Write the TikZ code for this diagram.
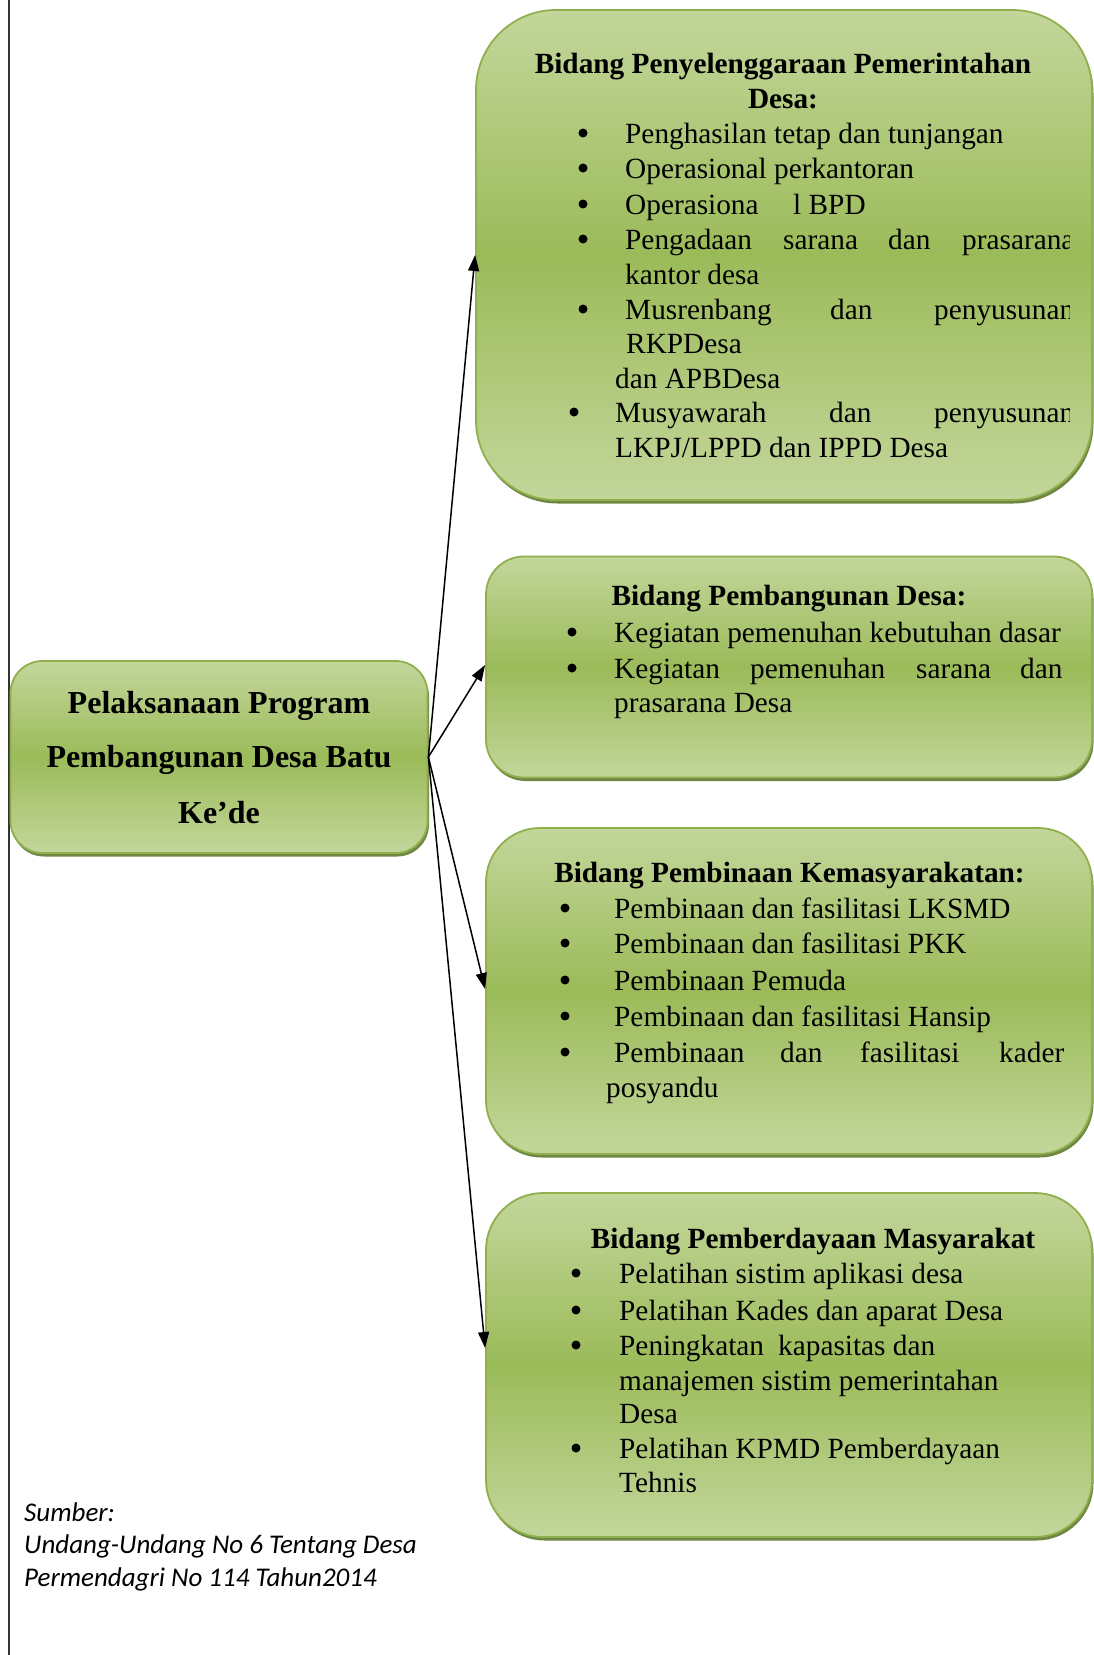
\documentclass[tikz,border=0pt]{standalone}
\usepackage{fontspec}
\setmainfont{Liberation Serif}
\newfontfamily\srcfont{Carlito}
\usetikzlibrary{arrows.meta,shadows}
\definecolor{gLight}{HTML}{C3D69B}
\definecolor{gDark}{HTML}{9BBB59}
\definecolor{gLine}{HTML}{8FB04C}
\definecolor{gShadow}{HTML}{5F7A2E}
\newcommand{\bodyfnt}{\fontsize{29.3}{35.7}\selectfont}
\begin{document}
\begin{tikzpicture}[x=1pt,y=-1pt,
  gbox/.style={draw=gLine, line width=1.8pt, inner sep=0pt,
    top color=gLight, bottom color=gLight, middle color=gDark,
    drop shadow={shadow xshift=1.5pt, shadow yshift=-3.5pt, fill=gShadow, opacity=0.9}},
  txt/.style={anchor=base west, inner sep=0pt, font=\bodyfnt},
  ttl/.style={anchor=base, inner sep=0pt, font=\bodyfnt\bfseries},
  bul/.style={circle, fill=black, inner sep=0pt, minimum size=9pt, yshift=10pt},
  lft/.style={anchor=base, inner sep=0pt, font=\fontsize{32}{40}\selectfont\bfseries},
  src/.style={anchor=base west, inner sep=0pt, font=\srcfont\itshape\fontsize{27}{32}\selectfont},
  arr/.style={line width=1.5pt, -{Triangle[length=16pt,width=11pt]}}]
\useasboundingbox (0,0) rectangle (1094,1655);
\fill[white] (0,0) rectangle (1094,1655);
\draw[line width=1.2pt, black!80] (9,0) -- (9,1655);

% boxes
\node[gbox, rounded corners=80pt, minimum width=616pt, minimum height=490pt] (b1) at (784,255) {};
\node[gbox, rounded corners=38pt, minimum width=606pt, minimum height=221pt] (b2) at (789,667) {};
\node[gbox, rounded corners=54pt, minimum width=606pt, minimum height=326pt] (b3) at (789,991) {};
\node[gbox, rounded corners=57pt, minimum width=606pt, minimum height=344pt] (b4) at (789,1365) {};
\node[gbox, rounded corners=32pt, minimum width=417pt, minimum height=192pt] (L) at (219,757) {};

% left box text
\node[lft] (l1) at (219,713) {Pelaksanaan Program};
\node[lft] (l2) at (219,767) {Pembangunan Desa Batu};
\node[lft] (l3) at (219,823) {Ke’de};

% arrows
\draw[arr] (L.east) -- (b1.west);
\draw[arr] (L.east) -- ([yshift=2pt]b2.west);
\draw[arr] (L.east) -- ([yshift=2pt]b3.west);
\draw[arr] (L.east) -- ([yshift=17pt]b4.west);

% box 1
\node[ttl] (t1a) at (783,73) {Bidang Penyelenggaraan Pemerintahan};
\node[ttl] (t1b) at (783,108) {Desa:};
\node[bul] (u11) at (583,143) {};
\node[txt] (x11) at (625,143) {Penghasilan tetap dan tunjangan};
\node[bul] (u12) at (583,178) {};
\node[txt] (x12) at (625,178) {Operasional perkantoran};
\node[bul] (u13) at (583,214) {};
\node[txt] (x13a) at (625,214) {Operasiona};
\node[txt] (x13b) at (793,214) {l BPD};
\node[bul] (u14) at (583,249) {};
\begin{scope}
\clip (0,0) rectangle (1069,1655);
\node[txt] (x14a) at (625,249) {Pengadaan};
\node[txt] (x14b) at (783,249) {sarana};
\node[txt] (x14c) at (888,249) {dan};
\node[txt] (x14d) at (962,249) {prasarana};
\node[txt] (x16a) at (625,319) {Musrenbang};
\node[txt] (x16b) at (830,319) {dan};
\node[txt] (x16c) at (934,319) {penyusunan};
\node[txt] (x19a) at (615,422) {Musyawarah};
\node[txt] (x19b) at (829,422) {dan};
\node[txt] (x19c) at (934,422) {penyusunan};
\end{scope}
\node[txt] (x15) at (625,284) {kantor desa};
\node[bul] (u16) at (583,319) {};
\node[txt] (x17) at (626,353) {RKPDesa};
\node[txt] (x18) at (615,388) {dan APBDesa};
\node[bul] (u19) at (574,422) {};
\node[txt] (x110) at (615,457) {LKPJ/LPPD dan IPPD Desa};

% box 2
\node[ttl] (t2) at (789,605) {Bidang Pembangunan Desa:};
\node[bul] (u21) at (572,642) {};
\node[txt] (x21) at (614,642) {Kegiatan pemenuhan kebutuhan dasar};
\node[bul] (u22) at (572,678) {};
\node[txt] (x22a) at (614,678) {Kegiatan};
\node[txt] (x22b) at (750,678) {pemenuhan};
\node[txt] (x22c) at (916,678) {sarana};
\node[txt] (x22d) at (1020,678) {dan};
\node[txt] (x23) at (614,712) {prasarana Desa};

% box 3
\node[ttl] (t3) at (789.5,882) {Bidang Pembinaan Kemasyarakatan:};
\node[bul] (u31) at (565,918) {};
\node[txt] (x31) at (614,918) {Pembinaan dan fasilitasi LKSMD};
\node[bul] (u32) at (565,953) {};
\node[txt] (x32) at (614,953) {Pembinaan dan fasilitasi PKK};
\node[bul] (u33) at (565,990) {};
\node[txt] (x33) at (614,990) {Pembinaan Pemuda};
\node[bul] (u34) at (565,1026) {};
\node[txt] (x34) at (614,1026) {Pembinaan dan fasilitasi Hansip};
\node[bul] (u35) at (565,1062) {};
\node[txt] (x35a) at (614,1062) {Pembinaan};
\node[txt] (x35b) at (780,1062) {dan};
\node[txt] (x35c) at (860,1062) {fasilitasi};
\node[txt] (x35d) at (999,1062) {kader};
\node[txt] (x36) at (606,1097) {posyandu};

% box 4
\node[ttl] (t4) at (813,1248) {Bidang Pemberdayaan Masyarakat};
\node[bul] (u41) at (576,1283) {};
\node[txt] (x41) at (619,1283) {Pelatihan sistim aplikasi desa};
\node[bul] (u42) at (576,1320) {};
\node[txt] (x42) at (619,1320) {Pelatihan Kades dan aparat Desa};
\node[bul] (u43) at (576,1355) {};
\node[txt] (x43a) at (619,1355) {Peningkatan};
\node[txt] (x43b) at (778,1355) {kapasitas dan};
\node[txt] (x44) at (619,1390) {manajemen sistim pemerintahan};
\node[txt] (x45) at (619,1423) {Desa};
\node[bul] (u46) at (576,1458) {};
\node[txt] (x46) at (619,1458) {Pelatihan KPMD Pemberdayaan};
\node[txt] (x47) at (619,1492) {Tehnis};

% source
\node[src] (s1) at (24,1521) {Sumber:};
\node[src] (s2) at (24,1553) {Undang-Undang No 6 Tentang Desa};
\node[src] (s3) at (24,1586) {Permendagri No 114 Tahun2014};
\end{tikzpicture}
\end{document}
